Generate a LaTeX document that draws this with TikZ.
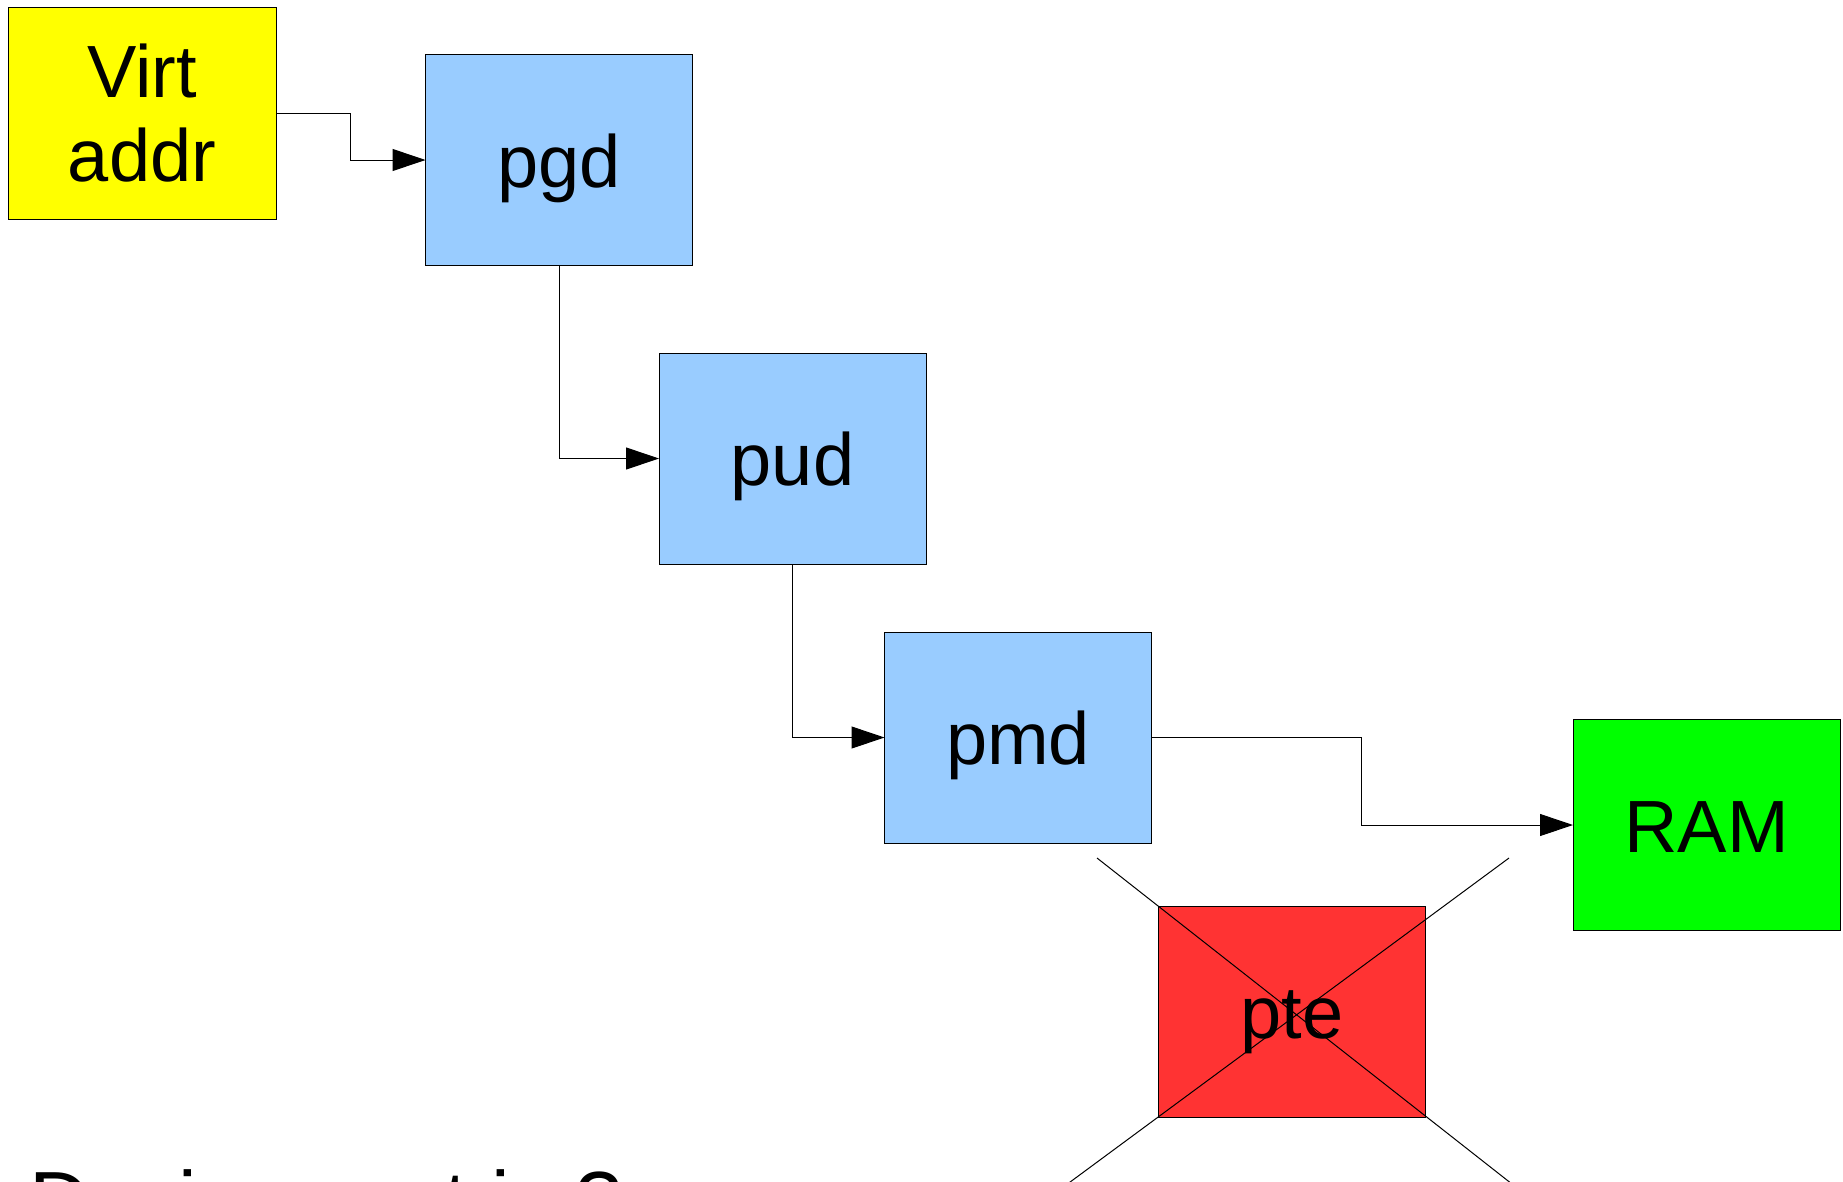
\documentclass[tikz,border=0pt]{standalone}
\usepackage{fontspec}
\setmainfont{Liberation Sans}
\usetikzlibrary{arrows.meta}
\definecolor{cyellow}{HTML}{FFFF00}
\definecolor{cblue}{HTML}{99CCFF}
\definecolor{cred}{HTML}{FF3333}
\definecolor{cgreen}{HTML}{00FF00}
\tikzset{
  boxnode/.style={draw=black, line width=1pt, inner sep=0pt, outer sep=0pt,
    minimum width=267pt, minimum height=211pt, align=center,
    font=\fontsize{74}{84}\selectfont},
  onelinebox/.style={boxnode, text height=68pt, text depth=14pt},
  link/.style={draw=black, line width=1pt, -{Triangle[length=33pt,width=22pt]}},
  crossline/.style={draw=black, line width=1pt}
}
\begin{document}
\begin{tikzpicture}[x=1pt,y=-1pt]
\useasboundingbox (0,0) rectangle (1843,1181);
\clip (0,0) rectangle (1843,1181);
\node[boxnode, fill=cyellow, minimum width=268pt, minimum height=212pt] (virt) at (142,113) {Virt\\addr};
\node[onelinebox, fill=cblue] (pgd) at (559,160) {pgd};
\node[onelinebox, fill=cblue] (pud) at (792.5,458.5) {pud};
\node[onelinebox, fill=cblue] (pmd) at (1018,737.5) {pmd};
\node[onelinebox, fill=cgreen] (ram) at (1706.5,825) {RAM};
\node[onelinebox, fill=cred] (pte) at (1292,1011.5) {pte};
\draw[link] (virt.east) -- ++(74,0) |- (pgd.west);
\draw[link] (pgd.south) |- (pud.west);
\draw[link] (pud.south) |- (pmd.west);
\draw[link] (pmd.east) -- ++(210,0) |- (ram.west);
\coordinate (xa1) at (1097,858);
\coordinate (xa2) at (1596,1250);
\coordinate (xb1) at (1509,858);
\coordinate (xb2) at (978,1250);
\draw[crossline] (xa1) -- (xa2);
\draw[crossline] (xb1) -- (xb2);
\node[anchor=base west, inner sep=0pt, font=\fontsize{84}{92}\selectfont] (question) at (29,1230) {Design cost is ?};
\end{tikzpicture}
\end{document}
